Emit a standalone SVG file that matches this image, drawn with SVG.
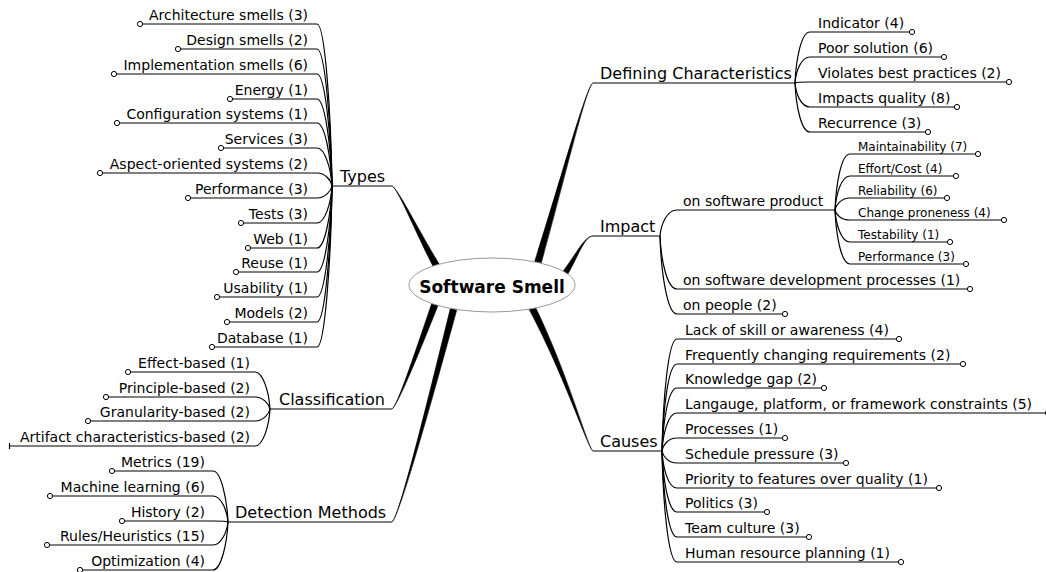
<svg xmlns="http://www.w3.org/2000/svg" width="1046" height="572" viewBox="0 0 1046 572">
<style>
text{font-family:"DejaVu Sans","Liberation Sans",sans-serif;fill:#000}
.t14{font-size:14px}
.t12{font-size:12px}
.t16{font-size:16px}
.end{text-anchor:end}
.root{font-size:17px;font-weight:bold;text-anchor:middle}
.ul,.cn{fill:none;stroke:#000;stroke-width:1.2}
.dot{fill:#fff;stroke:#000;stroke-width:1}
.br{fill:#000;stroke:#000;stroke-width:0.6}
</style>
<rect width="1046" height="572" fill="#fff"/>
<g id="connectors">
<!-- thick main branches -->
<path class="br" d="M392,186 C398,188 421.8,236.9 443,270.2 L437,273.8 C418.2,239.1 398,188 392,186 Z"/>
<path class="br" d="M392,409 C398,405 420,350.7 441.3,297.2 L434.7,294.8 C416,349.3 398,405 392,409 Z"/>
<path class="br" d="M392,522 C400,515 432,400.5 461.4,292.9 L454.6,291.1 C428,399.5 400,515 392,522 Z"/>
<path class="br" d="M593,83 C586,86 562,190.6 538.4,273 L531.6,271 C558,189.4 586,86 593,83 Z"/>
<path class="br" d="M593,236 C583,236 576.6,263.3 560.7,285.2 L555.3,280.8 C573.4,260.7 583,236 593,236 Z"/>
<path class="br" d="M593,451 C588,449 566.9,369 531.1,298.4 L524.9,301.6 C563.1,371 588,449 593,451 Z"/>
<!-- Types -->
<path class="cn" d="M317,24 C325,24 331,113 332,186"/>
<path class="cn" d="M317,49 C325,49 331,124 332,186"/>
<path class="cn" d="M317,74 C325,74 331,136 332,186"/>
<path class="cn" d="M317,99 C325,99 331,147 332,186"/>
<path class="cn" d="M317,123 C325,123 331,158 332,186"/>
<path class="cn" d="M317,148 C325,148 331,169 332,186"/>
<path class="cn" d="M317,173 C325,173 331,180 332,186"/>
<path class="cn" d="M317,198 C325,198 331,191 332,186"/>
<path class="cn" d="M317,223 C325,223 331,203 332,186"/>
<path class="cn" d="M317,248 C325,248 331,214 332,186"/>
<path class="cn" d="M317,272 C325,272 331,225 332,186"/>
<path class="cn" d="M317,297 C325,297 331,236 332,186"/>
<path class="cn" d="M317,322 C325,322 331,247 332,186"/>
<path class="cn" d="M317,347 C325,347 331,259 332,186"/>
<!-- Classification -->
<path class="cn" d="M255,372 C263,372 269,392 270,409"/>
<path class="cn" d="M255,397 C263,397 269,404 270,409"/>
<path class="cn" d="M255,421 C263,421 269,414 270,409"/>
<path class="cn" d="M255,446 C263,446 269,426 270,409"/>
<!-- Detection -->
<path class="cn" d="M213,471 C221,471 227,499 228,522"/>
<path class="cn" d="M213,496 C221,496 227,510 228,522"/>
<path class="cn" d="M213,521 C221,521 227,521.5 228,522"/>
<path class="cn" d="M213,545 C221,545 227,532 228,522"/>
<path class="cn" d="M213,570 C221,570 227,544 228,522"/>
<!-- Defining Characteristics -->
<path class="cn" d="M795,83 C796,60 801,32 810,32"/>
<path class="cn" d="M795,83 C796,71 801,57 810,57"/>
<path class="cn" d="M795,83 C796,82.5 801,82 810,82"/>
<path class="cn" d="M795,83 C796,94 801,107 810,107"/>
<path class="cn" d="M795,83 C796,105 801,132 810,132"/>
<!-- Impact -->
<path class="cn" d="M660,236 C661,224 667,210 677,210"/>
<path class="cn" d="M660,236 C661,260 667,289 677,289"/>
<path class="cn" d="M660,236 C661,271 667,314 677,314"/>
<!-- on software product -->
<path class="cn" d="M835,210 C836,185 841,154 850,154"/>
<path class="cn" d="M835,210 C836,195 841,176 850,176"/>
<path class="cn" d="M835,210 C836,205 841,198 850,198"/>
<path class="cn" d="M835,210 C836,214.5 841,220 850,220"/>
<path class="cn" d="M835,210 C836,224 841,242 850,242"/>
<path class="cn" d="M835,210 C836,234 841,264 850,264"/>
<!-- Causes -->
<path class="cn" d="M662,451 C663,401 668,339 677,339"/>
<path class="cn" d="M662,451 C663,412 668,364 677,364"/>
<path class="cn" d="M662,451 C663,423 668,388 677,388"/>
<path class="cn" d="M662,451 C663,434 668,413 677,413"/>
<path class="cn" d="M662,451 C663,445 668,438 677,438"/>
<path class="cn" d="M662,451 C663,456 668,463 677,463"/>
<path class="cn" d="M662,451 C663,468 668,488 677,488"/>
<path class="cn" d="M662,451 C663,478 668,512 677,512"/>
<path class="cn" d="M662,451 C663,490 668,537 677,537"/>
<path class="cn" d="M662,451 C663,501 668,562 677,562"/>
</g>

<g id="root">
<ellipse cx="492" cy="285" rx="83" ry="27" fill="#fff" stroke="#999" stroke-width="1"/>
<text class="root" x="492" y="293">Software Smell</text>
</g>

<!-- Main topics -->
<g id="types"><path class="ul" d="M332,186H392"/><text class="t16" x="340" y="182">Types</text></g>
<g id="classification"><path class="ul" d="M270,409H392"/><text class="t16" x="279" y="405">Classification</text></g>
<g id="detection"><path class="ul" d="M228,522H392"/><text class="t16" x="235" y="518">Detection Methods</text></g>
<g id="defining"><path class="ul" d="M593,83H795"/><text class="t16" x="600" y="79">Defining Characteristics</text></g>
<g id="impact"><path class="ul" d="M593,236H660"/><text class="t16" x="600" y="232">Impact</text></g>
<g id="causes"><path class="ul" d="M593,451H662"/><text class="t16" x="600" y="447">Causes</text></g>

<!-- Types children -->
<g id="types-1"><path class="ul" d="M140,24H317"/><circle class="dot" cx="140" cy="24" r="2.6"/><text class="t14 end" x="308" y="20">Architecture smells (3)</text></g>
<g id="types-2"><path class="ul" d="M178,49H317"/><circle class="dot" cx="178" cy="49" r="2.6"/><text class="t14 end" x="308" y="45">Design smells (2)</text></g>
<g id="types-3"><path class="ul" d="M114,74H317"/><circle class="dot" cx="114" cy="74" r="2.6"/><text class="t14 end" x="308" y="70">Implementation smells (6)</text></g>
<g id="types-4"><path class="ul" d="M230,99H317"/><circle class="dot" cx="230" cy="99" r="2.6"/><text class="t14 end" x="308" y="95">Energy (1)</text></g>
<g id="types-5"><path class="ul" d="M117,123H317"/><circle class="dot" cx="117" cy="123" r="2.6"/><text class="t14 end" x="308" y="119">Configuration systems (1)</text></g>
<g id="types-6"><path class="ul" d="M221,148H317"/><circle class="dot" cx="221" cy="148" r="2.6"/><text class="t14 end" x="308" y="144">Services (3)</text></g>
<g id="types-7"><path class="ul" d="M100,173H317"/><circle class="dot" cx="100" cy="173" r="2.6"/><text class="t14 end" x="308" y="169">Aspect-oriented systems (2)</text></g>
<g id="types-8"><path class="ul" d="M188,198H317"/><circle class="dot" cx="188" cy="198" r="2.6"/><text class="t14 end" x="308" y="194">Performance (3)</text></g>
<g id="types-9"><path class="ul" d="M241,223H317"/><circle class="dot" cx="241" cy="223" r="2.6"/><text class="t14 end" x="308" y="219">Tests (3)</text></g>
<g id="types-10"><path class="ul" d="M248,248H317"/><circle class="dot" cx="248" cy="248" r="2.6"/><text class="t14 end" x="308" y="244">Web (1)</text></g>
<g id="types-11"><path class="ul" d="M236,272H317"/><circle class="dot" cx="236" cy="272" r="2.6"/><text class="t14 end" x="308" y="268">Reuse (1)</text></g>
<g id="types-12"><path class="ul" d="M217,297H317"/><circle class="dot" cx="217" cy="297" r="2.6"/><text class="t14 end" x="308" y="293">Usability (1)</text></g>
<g id="types-13"><path class="ul" d="M227,322H317"/><circle class="dot" cx="227" cy="322" r="2.6"/><text class="t14 end" x="308" y="318">Models (2)</text></g>
<g id="types-14"><path class="ul" d="M212,347H317"/><circle class="dot" cx="212" cy="347" r="2.6"/><text class="t14 end" x="308" y="343">Database (1)</text></g>

<!-- Classification children -->
<g id="class-1"><path class="ul" d="M128,372H255"/><circle class="dot" cx="128" cy="372" r="2.6"/><text class="t14 end" x="250" y="368">Effect-based (1)</text></g>
<g id="class-2"><path class="ul" d="M106,397H255"/><circle class="dot" cx="106" cy="397" r="2.6"/><text class="t14 end" x="250" y="393">Principle-based (2)</text></g>
<g id="class-3"><path class="ul" d="M88,421H255"/><circle class="dot" cx="88" cy="421" r="2.6"/><text class="t14 end" x="250" y="417">Granularity-based (2)</text></g>
<g id="class-4"><path class="ul" d="M9.5,446H255 M9.5,443V449"/><text class="t14 end" x="250" y="442">Artifact characteristics-based (2)</text></g>

<!-- Detection children -->
<g id="det-1"><path class="ul" d="M112,471H213"/><circle class="dot" cx="112" cy="471" r="2.6"/><text class="t14 end" x="205" y="467">Metrics (19)</text></g>
<g id="det-2"><path class="ul" d="M50,496H213"/><circle class="dot" cx="50" cy="496" r="2.6"/><text class="t14 end" x="205" y="492">Machine learning (6)</text></g>
<g id="det-3"><path class="ul" d="M122,521H213"/><circle class="dot" cx="122" cy="521" r="2.6"/><text class="t14 end" x="205" y="517">History (2)</text></g>
<g id="det-4"><path class="ul" d="M47,545H213"/><circle class="dot" cx="47" cy="545" r="2.6"/><text class="t14 end" x="205" y="541">Rules/Heuristics (15)</text></g>
<g id="det-5"><path class="ul" d="M80,570H213"/><circle class="dot" cx="80" cy="570" r="2.6"/><text class="t14 end" x="205" y="566">Optimization (4)</text></g>

<!-- Defining Characteristics children -->
<g id="dc-1"><path class="ul" d="M810,32H912"/><circle class="dot" cx="912" cy="32" r="2.6"/><text class="t14" x="818" y="28">Indicator (4)</text></g>
<g id="dc-2"><path class="ul" d="M810,57H944"/><circle class="dot" cx="944" cy="57" r="2.6"/><text class="t14" x="818" y="53">Poor solution (6)</text></g>
<g id="dc-3"><path class="ul" d="M810,82H1009"/><circle class="dot" cx="1009" cy="82" r="2.6"/><text class="t14" x="818" y="78">Violates best practices (2)</text></g>
<g id="dc-4"><path class="ul" d="M810,107H957"/><circle class="dot" cx="957" cy="107" r="2.6"/><text class="t14" x="818" y="103">Impacts quality (8)</text></g>
<g id="dc-5"><path class="ul" d="M810,132H928"/><circle class="dot" cx="928" cy="132" r="2.6"/><text class="t14" x="818" y="128">Recurrence (3)</text></g>

<!-- Impact children -->
<g id="imp-product"><path class="ul" d="M677,210H835"/><text class="t14" x="683" y="206">on software product</text></g>
<g id="imp-process"><path class="ul" d="M677,289H970"/><circle class="dot" cx="970" cy="289" r="2.6"/><text class="t14" x="683" y="285">on software development processes (1)</text></g>
<g id="imp-people"><path class="ul" d="M677,314H785"/><circle class="dot" cx="785" cy="314" r="2.6"/><text class="t14" x="683" y="310">on people (2)</text></g>

<!-- on software product children -->
<g id="prod-1"><path class="ul" d="M850,154H978"/><circle class="dot" cx="978" cy="154" r="2.6"/><text class="t12" x="858" y="151">Maintainability (7)</text></g>
<g id="prod-2"><path class="ul" d="M850,176H956"/><circle class="dot" cx="956" cy="176" r="2.6"/><text class="t12" x="858" y="173">Effort/Cost (4)</text></g>
<g id="prod-3"><path class="ul" d="M850,198H947"/><circle class="dot" cx="947" cy="198" r="2.6"/><text class="t12" x="858" y="195">Reliability (6)</text></g>
<g id="prod-4"><path class="ul" d="M850,220H1004"/><circle class="dot" cx="1004" cy="220" r="2.6"/><text class="t12" x="858" y="217">Change proneness (4)</text></g>
<g id="prod-5"><path class="ul" d="M850,242H950"/><circle class="dot" cx="950" cy="242" r="2.6"/><text class="t12" x="858" y="239">Testability (1)</text></g>
<g id="prod-6"><path class="ul" d="M850,264H966"/><circle class="dot" cx="966" cy="264" r="2.6"/><text class="t12" x="858" y="261">Performance (3)</text></g>

<!-- Causes children -->
<g id="cause-1"><path class="ul" d="M677,339H899"/><circle class="dot" cx="899" cy="339" r="2.6"/><text class="t14" x="685" y="335">Lack of skill or awareness (4)</text></g>
<g id="cause-2"><path class="ul" d="M677,364H963"/><circle class="dot" cx="963" cy="364" r="2.6"/><text class="t14" x="685" y="360">Frequently changing requirements (2)</text></g>
<g id="cause-3"><path class="ul" d="M677,388H824"/><circle class="dot" cx="824" cy="388" r="2.6"/><text class="t14" x="685" y="384">Knowledge gap (2)</text></g>
<g id="cause-4"><path class="ul" d="M677,413H1046"/><circle class="dot" cx="1048" cy="413" r="2.6"/><text class="t14" x="685" y="409">Langauge, platform, or framework constraints (5)</text></g>
<g id="cause-5"><path class="ul" d="M677,438H785"/><circle class="dot" cx="785" cy="438" r="2.6"/><text class="t14" x="685" y="434">Processes (1)</text></g>
<g id="cause-6"><path class="ul" d="M677,463H846"/><circle class="dot" cx="846" cy="463" r="2.6"/><text class="t14" x="685" y="459">Schedule pressure (3)</text></g>
<g id="cause-7"><path class="ul" d="M677,488H939"/><circle class="dot" cx="939" cy="488" r="2.6"/><text class="t14" x="685" y="484">Priority to features over quality (1)</text></g>
<g id="cause-8"><path class="ul" d="M677,512H767"/><circle class="dot" cx="767" cy="512" r="2.6"/><text class="t14" x="685" y="508">Politics (3)</text></g>
<g id="cause-9"><path class="ul" d="M677,537H809"/><circle class="dot" cx="809" cy="537" r="2.6"/><text class="t14" x="685" y="533">Team culture (3)</text></g>
<g id="cause-10"><path class="ul" d="M677,562H901"/><circle class="dot" cx="901" cy="562" r="2.6"/><text class="t14" x="685" y="558">Human resource planning (1)</text></g>
</svg>
